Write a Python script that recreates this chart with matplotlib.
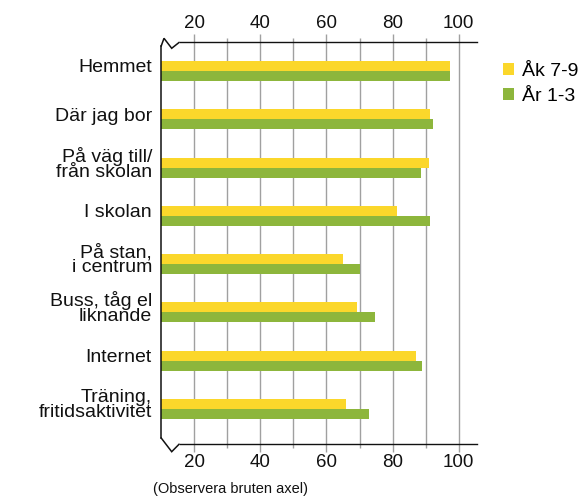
import numpy as np
from matplotlib import pyplot as plt
from matplotlib.lines import Line2D

plt.rcParams['font.family'] = ['Liberation Sans', 'DejaVu Sans']

# data
categories = ['Hemmet', 'Där jag bor', 'På väg till/\nfrån skolan', 'I skolan',
              'På stan,\ni centrum', 'Buss, tåg el\nliknande', 'Internet',
              'Träning,\nfritidsaktivitet']
ak_7_9 = [97.2, 91.4, 91.1, 81.4, 64.9, 69.3, 87.2, 66.0]
ar_1_3 = [97.2, 92.3, 88.7, 91.4, 70.2, 74.7, 88.9, 73.0]
series_names = ['Åk 7-9', 'År 1-3']
major_ticks = [20, 40, 60, 80, 100]
minor_ticks = [30, 50, 70, 90]

yellow = '#fbd72b'
green = '#8db63c'
grid_grey = '#a0a0a0'

W, H = 588, 497
fig = plt.figure(figsize=(W / 100, H / 100), dpi=100)

# axes box in pixels: left 161, right 477, top 42, bottom 444
ax = fig.add_axes([161 / W, 1 - 444 / H, (477 - 161) / W, (444 - 42) / H])

y = np.arange(len(categories))
h = 0.207
ax.barh(y - h / 2, ak_7_9, height=h, color=yellow, label=series_names[0], zorder=3)
ax.barh(y + h / 2, ar_1_3, height=h, color=green, label=series_names[1], zorder=3)

ax.set_xlim(10, 105.5)
ax.set_ylim(7.725, -0.6)

ax.set_xticks(major_ticks)
ax.set_xticks(minor_ticks, minor=True)
ax.grid(axis='x', which='both', color=grid_grey, linewidth=1, zorder=0)
ax.tick_params(axis='x', which='major', length=5.5, width=1, color=grid_grey,
               top=True, bottom=True, labeltop=True, labelbottom=True,
               labelsize=13.5, pad=1.5)
ax.tick_params(axis='x', which='minor', length=3, width=1, color=grid_grey,
               top=True, bottom=True)
for lab in ax.get_xticklabels():
    lab.set_color('#111111')

ax.set_yticks(y - h / 2, categories)
ax.tick_params(axis='y', length=0, pad=6.5, labelsize=14)
for lab in ax.get_yticklabels():
    lab.set_linespacing(0.85)
    lab.set_color('#111111')

# spines with break marks
ax.spines['right'].set_visible(False)
ax.spines['left'].set_visible(False)
ax.spines['top'].set_bounds(15.7, 105.5)
ax.spines['bottom'].set_bounds(15.7, 105.5)
for s in ['top', 'bottom']:
    ax.spines[s].set_linewidth(1)
    ax.spines[s].set_color('#111111')


def px(xp, yp):
    return (xp / W, 1 - yp / H)


top_pts = [px(161.2, 46), px(164, 38.3), px(171.7, 48.3), px(179, 42.5)]
bot_pts = [px(161.2, 438), px(171.7, 451.7), px(179, 444.3)]
left_pts = [px(161.2, 46), px(161.2, 438)]
for pts in (top_pts, bot_pts, left_pts):
    xs, ys = zip(*pts)
    fig.add_artist(Line2D(xs, ys, transform=fig.transFigure, color='#111111',
                          linewidth=1.1, solid_joinstyle='miter'))

fig.text(153 / W, 1 - 489 / H, '(Observera bruten axel)', fontsize=10.5,
         va='center', ha='left', color='#111111')

fig.legend(loc='upper left', bbox_to_anchor=(503 / W, 1 - 63 / H), frameon=False,
           fontsize=14, handlelength=0.55, handleheight=0.55, handletextpad=0.45,
           labelspacing=0.4, borderpad=0, borderaxespad=0)

plt.savefig('out.png', dpi=100)
